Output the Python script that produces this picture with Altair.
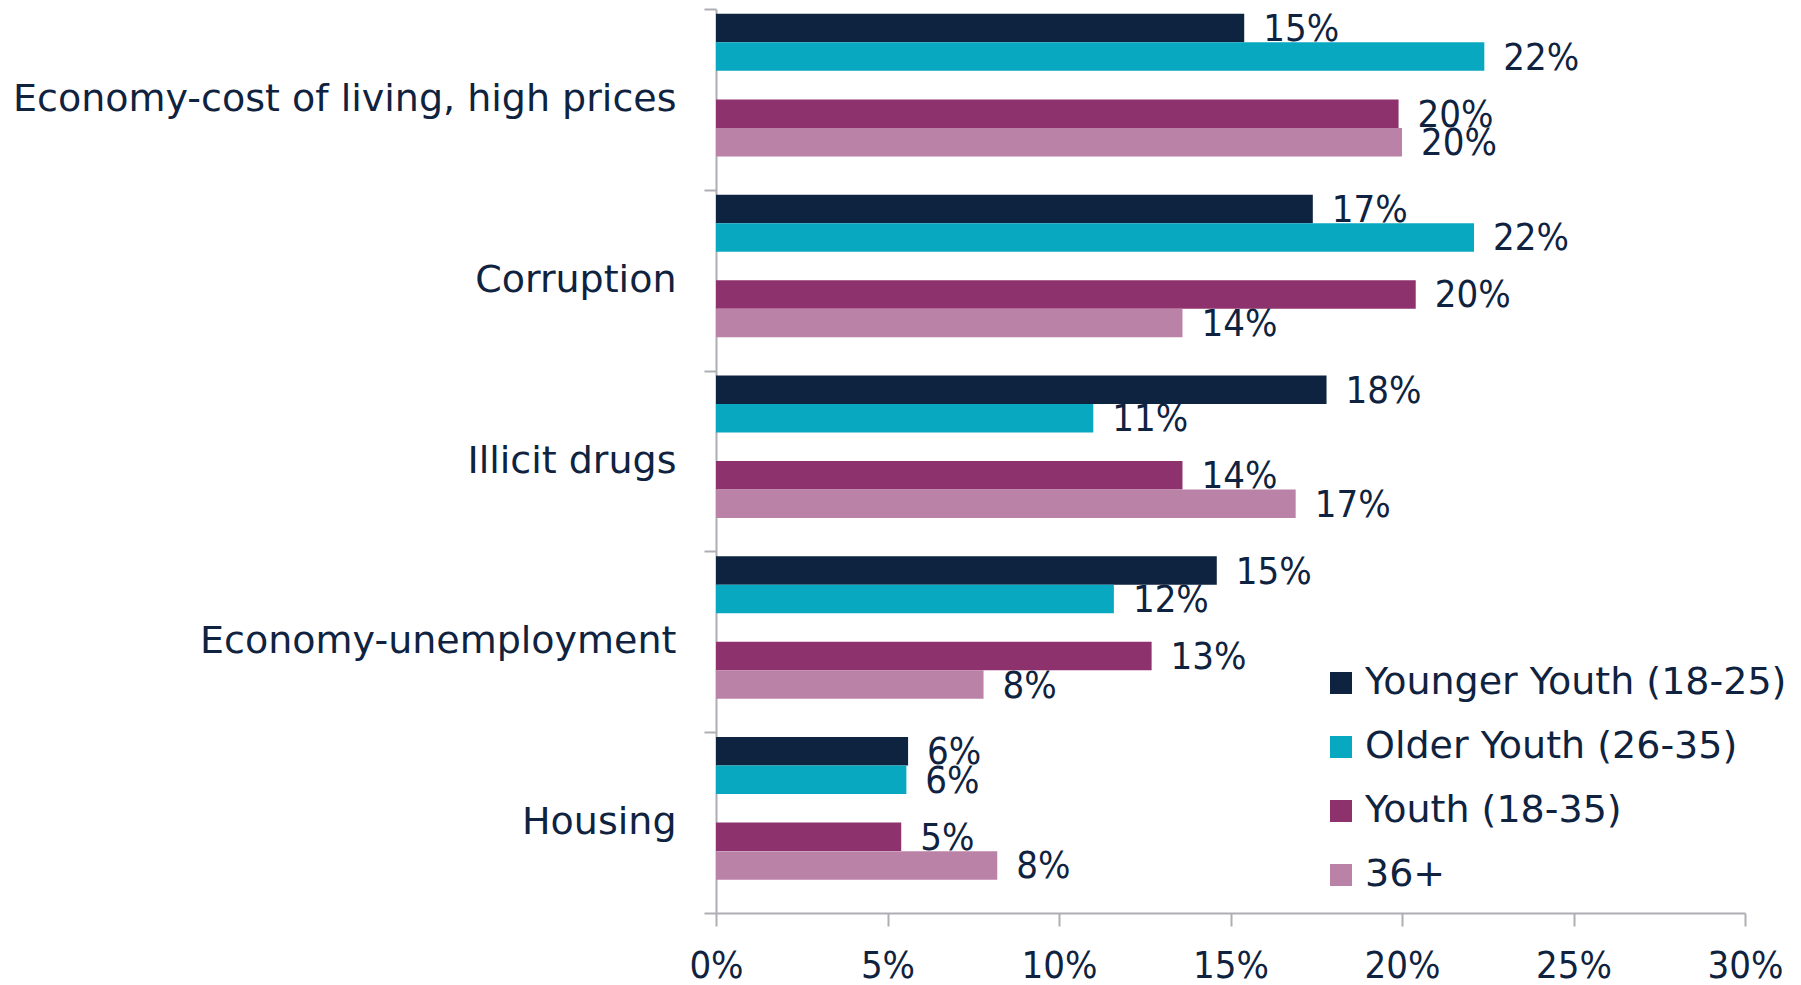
import altair as alt
import pandas as pd

categories = [
    "Economy-cost of living, high prices",
    "Corruption",
    "Illicit drugs",
    "Economy-unemployment",
    "Housing",
]
series = ["Younger Youth (18-25)", "Older Youth (26-35)", "Youth (18-35)", "36+"]
younger_youth = [15.4, 17.4, 17.8, 14.6, 5.6]
older_youth = [22.4, 22.1, 11.0, 11.6, 5.55]
youth = [19.9, 20.4, 13.6, 12.7, 5.4]
age_36_plus = [20.0, 13.6, 16.9, 7.8, 8.2]
x_ticks = [0, 0.05, 0.10, 0.15, 0.20, 0.25, 0.30]

colors = ["#0E2340", "#08A8C1", "#8E326D", "#BB82A8"]
text_color = "#0F2340"
axis_color = "#AEAEB5"
slot_domain = [series[0], series[1], "gap-a", series[2], series[3], "gap-b"]

rows = []
for s, vals in zip(series, [younger_youth, older_youth, youth, age_36_plus]):
    for c, v in zip(categories, vals):
        rows.append({"category": c, "series": s, "value": v / 100.0,
                     "label": f"{round(v)}%"})
df = pd.DataFrame(rows)

narrow = "DejaVu Sans Condensed, Liberation Sans Narrow, sans-serif"
wide = "DejaVu Sans, Verdana, sans-serif"

y_enc = alt.Y("category:N", sort=categories,
              scale=alt.Scale(paddingInner=0, paddingOuter=0),
              axis=alt.Axis(title=None, tickBand="extent", labelFont=wide,
                            labelFontSize=38, labelColor=text_color,
                            labelPadding=28, tickSize=12, tickColor=axis_color,
                            tickWidth=2, domainColor=axis_color, domainWidth=2,
                            labelLimit=900))
yoff_enc = alt.YOffset("series:N",
                       scale=alt.Scale(domain=slot_domain, paddingInner=0,
                                       paddingOuter=0.17))
x_enc = alt.X("value:Q",
              scale=alt.Scale(domain=[0, 0.30], nice=False, zero=True),
              axis=alt.Axis(title=None, format=".0%", values=x_ticks,
                            labelFont=narrow, labelFontSize=38,
                            labelColor=text_color, labelPadding=21,
                            labelFlush=False, labelOverlap=False,
                            labelBound=False,
                            tickSize=13, tickColor=axis_color, tickWidth=2,
                            domainColor=axis_color, domainWidth=2, grid=False))

bars = alt.Chart(df).mark_bar(size=28.5).encode(
    x=x_enc,
    y=y_enc,
    yOffset=yoff_enc,
    color=alt.Color("series:N",
                    scale=alt.Scale(domain=series, range=colors),
                    legend=alt.Legend(title=None, orient="none",
                                      legendX=606, legendY=655,
                                      symbolType="square", symbolSize=484,
                                      symbolStrokeWidth=0, labelFont=wide,
                                      labelFontSize=38, labelColor=text_color,
                                      labelOffset=5, rowPadding=26,
                                      padding=0, labelLimit=800)),
)

labels = alt.Chart(df).mark_text(align="left", baseline="middle", dx=19, dy=2,
                                 font=narrow, fontSize=38,
                                 color=text_color).encode(
    x="value:Q",
    y=alt.Y("category:N", sort=categories),
    yOffset=alt.YOffset("series:N"),
    text="label:N",
)

chart = alt.layer(bars, labels).properties(
    width=1029, height=904,
    autosize=alt.AutoSizeParams(type="none"),
    padding={"left": 708, "top": 1, "right": 40, "bottom": 72},
).configure_view(strokeWidth=0, stroke="transparent")

chart.save("out.html", embed_options={"renderer": "svg", "actions": False})
